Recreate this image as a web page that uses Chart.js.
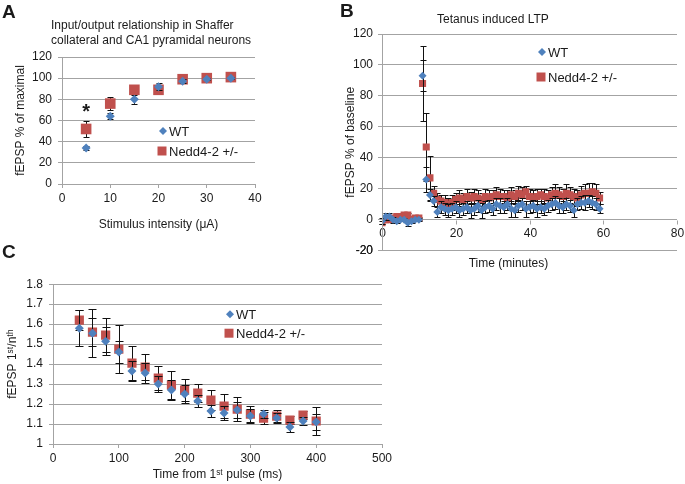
<!DOCTYPE html>
<html>
<head>
<meta charset="utf-8">
<script src="https://cdn.jsdelivr.net/npm/chart.js@4.4.1/dist/chart.umd.min.js"></script>
<style>
  body { margin: 0; background: #fff; }
  #page { position: relative; width: 685px; height: 484px; overflow: hidden; font-family: 'Liberation Sans', Arial, sans-serif; color: #1a1a1a; }
  canvas { position: absolute; }
  .letter { position: absolute; font-weight: bold; font-size: 19px; line-height: 19px; }
  .ptitle { position: absolute; font-size: 12px; line-height: 15px; white-space: nowrap; }
</style>
</head>
<body>
<div id="page">
  <canvas id="chartA" width="340" height="240" style="left:0;top:0"></canvas>
  <canvas id="chartC" width="400" height="213" style="left:0;top:271px"></canvas>
  <canvas id="chartB" width="345" height="271" style="left:340px;top:0;z-index:2"></canvas>
  <div class="letter" style="left:2px;top:2px">A</div>
  <div class="letter" style="left:340px;top:1px;z-index:3">B</div>
  <div class="letter" style="left:2px;top:242px">C</div>
  <div class="ptitle" style="left:51px;top:18px">Input/output relationship in Shaffer<br>collateral and CA1 pyramidal neurons</div>
  <div class="ptitle" style="left:437px;top:12px;z-index:3">Tetanus induced LTP</div>
</div>
<script>
// panel A - input/output
const stimA = [5, 10, 15, 20, 25, 30, 35]
const wtA = [34, 64, 80, 92, 97, 99, 100]
const wtErrA = [2, 3, 4, 3, 2, 1, 1]
const neddA = [52, 76, 89, 89, 99, 100, 101]
const neddErrA = [7.5, 6, 3, 2, 1.5, 1, 1]
const starA = [5, 73]

// panel B - tetanus LTP, one point per minute
const timeB = [0,1,2,3,4,5,6,7,8,9,10,11,12,13,14,15,16,17,18,19,20,21,22,23,24,25,26,27,28,29,30,
  31,32,33,34,35,36,37,38,39,40,41,42,43,44,45,46,47,48,49,50,51,52,53,54,55,56,57,58,59]
const wtB = [-1,2,2,0,-1,0,0,-2,-1,0,0, 93,26,16,12,5,8,7,6,7,8, 6,7,8,6,7,9,6,8,9,7,
  10,9,8,10,7,6,9,10,7,8, 9,7,8,7,9,10,11,9,8,10, 9,6,10,11,11,12,11,10,7]
const wtErrB = [2,2,2,2,1,1,1,2,1,1,1, 10,8,4,3,3,4,4,4,4,4, 4,4,4,5,4,4,5,4,4,4,
  4,5,4,4,5,4,4,4,5,4, 4,5,4,4,4,4,4,5,4,4, 4,4,4,4,5,4,4,4,3]
const neddB = [-2,0,0,1,2,2,3,3,0,1,1, 88,47,27,17,13,12,11,10,11,13, 14,13,15,14,15,14,13,15,14,15,
  16,15,15,14,16,15,17,16,18,15, 14,15,16,15,14,16,17,16,15,17, 16,15,14,16,17,17,18,17,14]
const neddErrB = [1,1,1,1,1,1,1,1,1,1,1, 24.5,22,14,5,4,4,5,4,5,4, 5,4,5,4,5,5,4,5,5,4,
  5,5,4,5,5,4,5,5,4,5, 5,5,4,5,5,5,6,5,5,6, 5,5,5,6,6,7,6,6,4]
const ticksB = [0, 20, 40, 60, 80]
const bottomTickB = -20

// panel C - paired pulse
const timeC = [40,60,80,100,120,140,160,180,200,220,240,260,280,300,320,340,360,380,400]
const wtC = [1.58,1.555,1.515,1.46,1.365,1.355,1.30,1.27,1.25,1.215,1.165,1.155,1.17,1.14,1.15,1.13,1.085,1.115,1.11]
const wtErrC = [0.09,0.12,0.07,0.055,0.05,0.05,0.04,0.05,0.045,0.03,0.03,0.035,0.04,0.035,0.02,0.025,0.025,0.02,0.04]
const neddC = [1.62,1.56,1.545,1.475,1.405,1.385,1.33,1.295,1.27,1.255,1.22,1.19,1.175,1.15,1.13,1.14,1.12,1.145,1.115]
const neddErrC = [0.05,0.07,0.085,0.12,0.085,0.065,0.06,0.07,0.055,0.045,0.05,0.06,0.06,0.04,0.03,0.03,0.02,0.02,0.07]

const blue = '#4F81BD'
const red = '#C0504D'
const gridGray = '#a3a3a3'
const textCol = '#1a1a1a'
const fontFam = "'Liberation Sans', Arial, sans-serif"

Chart.defaults.font.family = fontFam
Chart.defaults.font.size = 12
Chart.defaults.color = textCol

const pts = (xs, ys) => xs.map((x, i) => ({ x: x, y: ys[i] }))

// black error bars, drawn just before each series' markers
const errorBars = {
  id: 'errorBars',
  beforeDatasetDraw(chart, args, opts) {
    const ds = chart.data.datasets[args.index]
    if (!ds.errors) return
    const y = chart.scales.y
    const ctx = chart.ctx
    ctx.save()
    ctx.strokeStyle = '#111'
    ctx.lineWidth = 1
    args.meta.data.forEach((pt, i) => {
      const v = ds.data[i].y
      const e = ds.errors[i]
      const top = Math.round(y.getPixelForValue(v + e)) + 0.5
      const bot = Math.round(y.getPixelForValue(v - e)) + 0.5
      const x = Math.round(pt.x) + 0.5
      ctx.beginPath()
      ctx.moveTo(x, top); ctx.lineTo(x, bot)
      ctx.moveTo(x - opts.cap, top); ctx.lineTo(x + opts.cap, top)
      ctx.moveTo(x - opts.cap, bot); ctx.lineTo(x + opts.cap, bot)
      ctx.stroke()
    })
    ctx.restore()
  }
}

// legend inside the plot area
const inLegend = {
  id: 'inLegend',
  afterDatasetsDraw(chart, args, opts) {
    const { ctx, chartArea } = chart
    ctx.save()
    ctx.font = opts.size + 'px ' + fontFam
    ctx.textBaseline = 'middle'
    chart.data.datasets.forEach((ds, i) => {
      const x = chartArea.left + opts.dx
      const y = chartArea.top + opts.dy + i * opts.gap
      ctx.fillStyle = ds.backgroundColor
      ctx.beginPath()
      if (ds.pointStyle === 'rectRot') {
        const r = opts.diamond
        ctx.moveTo(x, y - r); ctx.lineTo(x + r, y); ctx.lineTo(x, y + r); ctx.lineTo(x - r, y)
        ctx.closePath()
      } else {
        const s = opts.square
        ctx.rect(x - s / 2 - 1, y - s / 2, s, s)
      }
      ctx.fill()
      ctx.fillStyle = textCol
      ctx.fillText(ds.label, x + opts.textGap, y + 1)
    })
    ctx.restore()
  }
}

// significance star
const starMark = {
  id: 'starMark',
  afterDatasetsDraw(chart, args, opts) {
    if (!opts.at) return
    const ctx = chart.ctx
    const px = chart.scales.x.getPixelForValue(opts.at[0])
    const py = chart.scales.y.getPixelForValue(opts.at[1])
    ctx.save()
    ctx.font = 'bold 20px ' + fontFam
    ctx.textAlign = 'center'
    ctx.fillStyle = textCol
    ctx.fillText('*', px, py + 11)
    ctx.restore()
  }
}

// x tick marks + labels hanging under the y = 0 line (panel B),
// plus the bottom y gridline / label, which did not show up on its own
const zeroAxis = {
  id: 'zeroAxis',
  afterDraw(chart, args, opts) {
    if (!opts.ticks) return
    const ctx = chart.ctx
    const xs = chart.scales.x
    const ys = chart.scales.y
    const area = chart.chartArea
    const y0 = Math.round(ys.getPixelForValue(opts.at)) + 0.5
    ctx.save()
    ctx.strokeStyle = gridGray
    ctx.lineWidth = 1
    ctx.fillStyle = textCol
    ctx.font = '12px ' + fontFam
    ctx.textAlign = 'center'
    ctx.textBaseline = 'top'
    opts.ticks.forEach((v) => {
      const px = Math.round(xs.getPixelForValue(v)) + 0.5
      ctx.beginPath()
      ctx.moveTo(px, y0); ctx.lineTo(px, y0 + 4)
      ctx.stroke()
      ctx.fillText(String(v), px, y0 + 7)
    })
    if (opts.bottom !== undefined) {
      const yb = Math.round(ys.getPixelForValue(opts.bottom)) - 0.5
      ctx.beginPath()
      ctx.moveTo(area.left - 4, yb); ctx.lineTo(area.right, yb)
      ctx.moveTo(area.left + 0.5, yb); ctx.lineTo(area.left + 0.5, area.top)
      ctx.stroke()
      ctx.textAlign = 'right'
      ctx.textBaseline = 'middle'
      ctx.fillText(String(opts.bottom), area.left - 9, yb)
    }
    ctx.restore()
  }
}

Chart.register(errorBars, inLegend, starMark, zeroAxis)

function series(label, xs, ys, errs, style, radius, color) {
  return {
    label: label,
    data: pts(xs, ys),
    errors: errs,
    pointStyle: style,
    pointRadius: radius,
    pointHoverRadius: radius,
    backgroundColor: color,
    borderColor: color,
    borderWidth: 0,
    showLine: false
  }
}

function axisY(min, max, step, title, width, titlePad, tickPad) {
  return {
    min: min, max: max,
    ticks: { stepSize: step, padding: tickPad, callback: (v) => String(Math.round(v * 10) / 10) },
    grid: { color: gridGray, tickLength: 4 },
    border: { color: gridGray },
    title: { display: true, text: title, padding: { top: titlePad, bottom: 0 } },
    afterFit: (s) => { s.width = width }
  }
}

function axisX(min, max, step, extra) {
  return Object.assign({
    type: 'linear',
    min: min, max: max,
    ticks: { stepSize: step, padding: 3 },
    grid: { drawOnChartArea: false, color: gridGray, tickLength: 4 },
    border: { color: gridGray }
  }, extra)
}

const chartA = new Chart(document.getElementById('chartA'), {
  type: 'scatter',
  data: {
    datasets: [
      series('WT', stimA, wtA, wtErrA, 'rectRot', 4.5, blue),
      series('Nedd4-2 +/-', stimA, neddA, neddErrA, 'rect', 7.5, red)
    ]
  },
  options: {
    responsive: false,
    animation: false,
    layout: { padding: { left: 0, right: 85, top: 57, bottom: 0 } },
    scales: {
      x: axisX(0, 40, 10, {
        title: { display: true, text: 'Stimulus intensity (μA)', padding: { top: 0, bottom: 8 } },
        afterFit: (s) => { s.height = 56 }
      }),
      y: axisY(0, 120, 20, 'fEPSP % of maximal', 62, 13, 6)
    },
    plugins: {
      legend: { display: false },
      tooltip: { enabled: false },
      errorBars: { cap: 3 },
      inLegend: { dx: 101, dy: 74, gap: 20, size: 13, diamond: 4, square: 9, textGap: 6 },
      starMark: { at: starA }
    }
  }
})

const chartC = new Chart(document.getElementById('chartC'), {
  type: 'scatter',
  data: {
    datasets: [
      series('WT', timeC, wtC, wtErrC, 'rectRot', 4.5, blue),
      series('Nedd4-2 +/-', timeC, neddC, neddErrC, 'rect', 6.5, red)
    ]
  },
  options: {
    responsive: false,
    animation: false,
    layout: { padding: { left: 0, right: 18, top: 13, bottom: 0 } },
    scales: {
      x: axisX(0, 500, 100, {
        title: { display: true, text: 'Time from 1ˢᵗ pulse (ms)', padding: { top: 0, bottom: 2 } },
        afterFit: (s) => { s.height = 40 }
      }),
      y: axisY(1, 1.8, 0.1, 'fEPSP 1ˢᵗ/nᵗʰ', 53, 5, 6)
    },
    plugins: {
      legend: { display: false },
      tooltip: { enabled: false },
      errorBars: { cap: 4 },
      inLegend: { dx: 177, dy: 30, gap: 19, size: 13, diamond: 4, square: 9, textGap: 6 }
    }
  }
})

const chartB = new Chart(document.getElementById('chartB'), {
  type: 'scatter',
  data: {
    datasets: [
      series('WT', timeB, wtB, wtErrB, 'rectRot', 4, blue),
      series('Nedd4-2 +/-', timeB, neddB, neddErrB, 'rect', 5, red)
    ]
  },
  options: {
    responsive: false,
    animation: false,
    layout: { padding: { left: 0, right: 8, top: 34, bottom: 0 } },
    scales: {
      x: { type: 'linear', display: false, min: 0, max: 80 },
      y: axisY(bottomTickB, 120, 20, 'fEPSP % of baseline', 42, 3, 5)
    },
    plugins: {
      legend: { display: false },
      tooltip: { enabled: false },
      subtitle: { display: true, position: 'bottom', text: 'Time (minutes)', color: textCol, font: { size: 12 }, padding: { top: 6, bottom: 0 } },
      errorBars: { cap: 3 },
      inLegend: { dx: 160, dy: 18, gap: 25, size: 13, diamond: 4, square: 9, textGap: 6 },
      zeroAxis: { ticks: ticksB, at: 0, bottom: bottomTickB }
    }
  }
})
</script>
</body>
</html>
